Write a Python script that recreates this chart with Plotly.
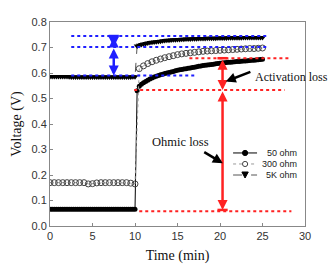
import plotly.graph_objects as go

# ---------------- data ----------------
t_dense = [0, 0.25, 0.5, 0.75, 1, 1.25, 1.5, 1.75, 2, 2.25,
           2.5, 2.75, 3, 3.25, 3.5, 3.75, 4, 4.25, 4.5, 4.75,
           5, 5.25, 5.5, 5.75, 6, 6.25, 6.5, 6.75, 7, 7.25,
           7.5, 7.75, 8, 8.25, 8.5, 8.75, 9, 9.25, 9.5, 9.75, 10,
           10.25, 10.5, 10.75, 11, 11.25, 11.5, 11.75, 12, 12.25, 12.5,
           12.75, 13, 13.25, 13.5, 13.75, 14, 14.25, 14.5, 14.75, 15,
           15.25, 15.5, 15.75, 16, 16.25, 16.5, 16.75, 17, 17.25, 17.5,
           17.75, 18, 18.25, 18.5, 18.75, 19, 19.25, 19.5, 19.75, 20,
           20.25, 20.5, 20.75, 21, 21.25, 21.5, 21.75, 22, 22.25, 22.5,
           22.75, 23, 23.25, 23.5, 23.75, 24, 24.25, 24.5, 24.75, 25]

v_50ohm = [0.066, 0.066, 0.066, 0.066, 0.066, 0.066, 0.066, 0.066, 0.066, 0.066,
           0.066, 0.066, 0.066, 0.066, 0.066, 0.066, 0.066, 0.066, 0.066, 0.066,
           0.066, 0.066, 0.066, 0.066, 0.066, 0.066, 0.066, 0.066, 0.066, 0.066,
           0.066, 0.066, 0.066, 0.066, 0.066, 0.066, 0.066, 0.066, 0.066, 0.066, 0.066,
           0.530, 0.548, 0.556, 0.562, 0.567, 0.572, 0.576, 0.580, 0.584, 0.587,
           0.590, 0.593, 0.595, 0.598, 0.600, 0.602, 0.604, 0.606, 0.609, 0.611,
           0.613, 0.614, 0.616, 0.617, 0.619, 0.620, 0.622, 0.623, 0.625, 0.626,
           0.627, 0.629, 0.630, 0.631, 0.632, 0.633, 0.634, 0.636, 0.637, 0.638,
           0.639, 0.640, 0.641, 0.642, 0.642, 0.643, 0.644, 0.645, 0.645, 0.646,
           0.647, 0.647, 0.648, 0.649, 0.650, 0.650, 0.651, 0.652, 0.653, 0.654]

v_5kohm = [0.586, 0.586, 0.586, 0.586, 0.586, 0.586, 0.586, 0.586, 0.586, 0.585,
           0.584, 0.584, 0.584, 0.584, 0.584, 0.584, 0.584, 0.584, 0.584, 0.584,
           0.584, 0.584, 0.584, 0.584, 0.584, 0.584, 0.584, 0.584, 0.584, 0.584,
           0.584, 0.584, 0.584, 0.584, 0.584, 0.584, 0.584, 0.584, 0.584, 0.585, 0.585,
           0.706, 0.709, 0.712, 0.714, 0.716, 0.718, 0.720, 0.721, 0.722, 0.723,
           0.724, 0.725, 0.726, 0.727, 0.728, 0.728, 0.729, 0.730, 0.730, 0.731,
           0.731, 0.732, 0.732, 0.733, 0.733, 0.733, 0.734, 0.734, 0.734, 0.735,
           0.735, 0.735, 0.735, 0.736, 0.736, 0.736, 0.736, 0.736, 0.737, 0.737,
           0.737, 0.737, 0.737, 0.738, 0.738, 0.738, 0.738, 0.738, 0.738, 0.738,
           0.739, 0.739, 0.739, 0.739, 0.739, 0.739, 0.739, 0.739, 0.739, 0.739]

t_300 = [0, 0.5, 1, 1.5, 2, 2.5, 3, 3.5, 4, 4.5,
         5, 5.5, 6, 6.5, 7, 7.5, 8, 8.5, 9, 9.5, 10,
         10.5, 11, 11.5, 12, 12.5, 13, 13.5, 14, 14.5, 15,
         15.5, 16, 16.5, 17, 17.5, 18, 18.5, 19, 19.5, 20,
         20.5, 21, 21.5, 22, 22.5, 23, 23.5, 24, 24.5, 25]
v_300ohm = [0.170, 0.170, 0.170, 0.170, 0.170, 0.170, 0.170, 0.170, 0.170, 0.165,
            0.166, 0.169, 0.170, 0.170, 0.170, 0.170, 0.170, 0.170, 0.170, 0.168, 0.165,
            0.617, 0.628, 0.637, 0.644, 0.650, 0.655, 0.660, 0.664, 0.668, 0.672,
            0.675, 0.677, 0.679, 0.681, 0.683, 0.685, 0.686, 0.687, 0.688, 0.689,
            0.690, 0.691, 0.692, 0.693, 0.694, 0.695, 0.696, 0.696, 0.697, 0.698]

series_names = ["50 ohm", "300 ohm", "5K ohm"]

# annotation levels
blue_levels = [0.745, 0.702, 0.590]     # dotted guide lines
blue_x = 7.5
red_levels = [0.658, 0.533, 0.058]
red_x = 20.3
x_ticks = [0, 5, 10, 15, 20, 25, 30]
y_ticks = [0.0, 0.1, 0.2, 0.3, 0.4, 0.5, 0.6, 0.7, 0.8]

BLUE = "#1f1fff"
RED = "#ff2222"

fig = go.Figure()
fig.add_trace(go.Scatter(x=t_dense, y=v_50ohm, mode="lines+markers", name=series_names[0],
                         line=dict(color="black", width=1),
                         marker=dict(symbol="circle", size=5, color="black")))
fig.add_trace(go.Scatter(x=t_300, y=v_300ohm, mode="lines+markers", name=series_names[1],
                         line=dict(color="#999999", width=1, dash="dot"),
                         marker=dict(symbol="circle-open", size=6, color="#444444",
                                     line=dict(width=1))))
fig.add_trace(go.Scatter(x=t_dense, y=v_5kohm, mode="lines+markers", name=series_names[2],
                         line=dict(color="#555555", width=1, dash="dash"),
                         marker=dict(symbol="triangle-down", size=6, color="black")))

shapes = []
# blue dotted guides
for lv, x0, x1 in [(blue_levels[0], 2.5, 25.6), (blue_levels[1], 2.5, 25.6), (blue_levels[2], 2.5, 17.2)]:
    shapes.append(dict(type="line", xref="x", yref="y", x0=x0, x1=x1, y0=lv, y1=lv,
                       line=dict(color=BLUE, width=2, dash="dot")))
# red dotted guides
for lv, x0, x1 in [(red_levels[0], 16.4, 28.4), (red_levels[1], 9.9, 27.6), (red_levels[2], 10.5, 28.4)]:
    shapes.append(dict(type="line", xref="x", yref="y", x0=x0, x1=x1, y0=lv, y1=lv,
                       line=dict(color=RED, width=2, dash="dot")))
# caps
shapes.append(dict(type="line", xref="x", yref="y", x0=blue_x - 0.6, x1=blue_x + 0.6,
                   y0=blue_levels[0], y1=blue_levels[0], line=dict(color=BLUE, width=2.5)))
shapes.append(dict(type="line", xref="x", yref="y", x0=red_x - 0.6, x1=red_x + 0.6,
                   y0=red_levels[0], y1=red_levels[0], line=dict(color=RED, width=2.5)))
shapes.append(dict(type="line", xref="x", yref="y", x0=red_x - 0.6, x1=red_x + 0.6,
                   y0=red_levels[2] + 0.005, y1=red_levels[2] + 0.005, line=dict(color=RED, width=2.5)))

annotations = []
def dbl_arrow(x, y0, y1, color):
    annotations.append(dict(x=x, y=y1, ax=x, ay=y0, xref="x", yref="y", axref="x", ayref="y",
                            text="", showarrow=True, arrowhead=2, startarrowhead=2,
                            arrowside="end+start", arrowsize=0.8, startarrowsize=0.8,
                            arrowwidth=2.5, arrowcolor=color))

dbl_arrow(blue_x, blue_levels[0], blue_levels[1], BLUE)
dbl_arrow(blue_x, blue_levels[1], blue_levels[2], BLUE)
dbl_arrow(red_x, red_levels[0], red_levels[1], RED)
dbl_arrow(red_x, red_levels[1], red_levels[2] + 0.005, RED)

# black pointer arrows and labels
serif = "Liberation Serif, Times New Roman, serif"
annotations.append(dict(x=20.68, y=0.567, ax=23.75, ay=0.607, xref="x", yref="y", axref="x", ayref="y",
                        text="", showarrow=True, arrowhead=2, arrowsize=0.8, arrowwidth=2.5, arrowcolor="black"))
annotations.append(dict(x=20.33, y=0.246, ax=17.97, ay=0.293, xref="x", yref="y", axref="x", ayref="y",
                        text="", showarrow=True, arrowhead=2, arrowsize=0.8, arrowwidth=2.5, arrowcolor="black"))
annotations.append(dict(x=23.9, y=0.584, xref="x", yref="y", text="Activation loss", showarrow=False,
                        xanchor="left", yanchor="middle", font=dict(family=serif, size=12, color="#111111")))
annotations.append(dict(x=11.8, y=0.328, xref="x", yref="y", text="Ohmic loss", showarrow=False,
                        xanchor="left", yanchor="middle", font=dict(family=serif, size=12.5, color="#111111")))

# manual legend (paper coords)
leg_y = [0.358, 0.304, 0.250]
lx0, lx1, lxm = 0.718, 0.812, 0.765
dashes = ["solid", "dot", "dash"]
lcolors = ["black", "#999999", "#555555"]
for i in range(3):
    shapes.append(dict(type="line", xref="paper", yref="paper", x0=lx0, x1=lx1, y0=leg_y[i], y1=leg_y[i],
                       line=dict(color=lcolors[i], width=1, dash=dashes[i])))
    annotations.append(dict(x=0.976, y=leg_y[i], xref="paper", yref="paper", text=series_names[i],
                            showarrow=False, xanchor="right", yanchor="middle",
                            font=dict(family="Liberation Sans, Arial", size=9, color="#222222")))
rx, ry = 2.6 / 255, 2.6 / 204
shapes.append(dict(type="circle", xref="paper", yref="paper", x0=lxm - rx, x1=lxm + rx,
                   y0=leg_y[0] - ry, y1=leg_y[0] + ry, fillcolor="black", line=dict(color="black", width=1)))
shapes.append(dict(type="circle", xref="paper", yref="paper", x0=lxm - rx, x1=lxm + rx,
                   y0=leg_y[1] - ry, y1=leg_y[1] + ry, fillcolor="white", line=dict(color="#444444", width=1)))
tx, ty = 3.2 / 255, 3.0 / 204
shapes.append(dict(type="path", xref="paper", yref="paper",
                   path=f"M {lxm - tx} {leg_y[2] + ty} L {lxm + tx} {leg_y[2] + ty} L {lxm} {leg_y[2] - ty} Z",
                   fillcolor="black", line=dict(color="black", width=1)))

axis_common = dict(showgrid=False, zeroline=False, showline=True, mirror=True, automargin=False,
                   linecolor="#888888", linewidth=1, ticks="inside", ticklen=3,
                   tickcolor="#888888", tickfont=dict(family="Liberation Sans, Arial", size=11, color="#333333"))

fig.update_layout(
    width=331, height=264, margin=dict(l=50, r=26, t=22, b=38),
    paper_bgcolor="white", plot_bgcolor="white", showlegend=False,
    shapes=shapes, annotations=annotations,
    xaxis=dict(range=[0, 30], tickvals=x_ticks, ticklabelstandoff=0, **axis_common,
               title=dict(text="Time (min)", font=dict(family=serif, size=14, color="#111111"), standoff=13)),
    yaxis=dict(range=[0, 0.8], tickvals=y_ticks, tickformat=".1f", **axis_common,
               title=dict(text="Voltage (V)", font=dict(family=serif, size=14, color="#111111"), standoff=6)),
)

fig.write_html("out.html")
